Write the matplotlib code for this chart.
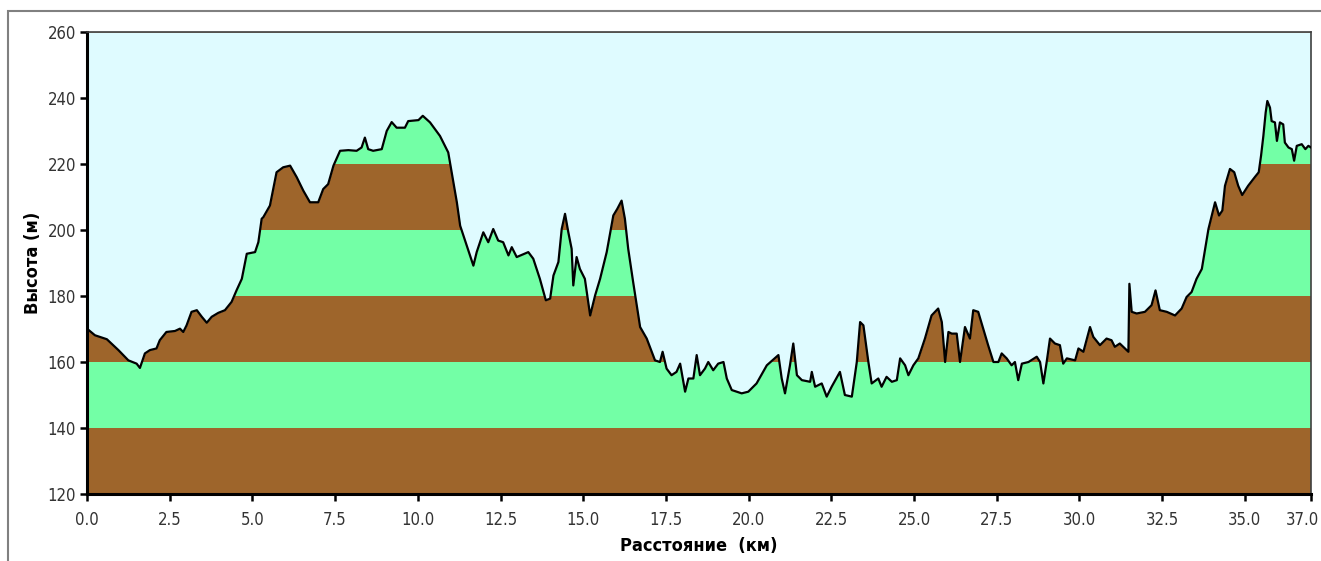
import numpy as np
import matplotlib.pyplot as plt
from matplotlib.patches import Rectangle
from matplotlib.transforms import ScaledTranslation

plt.rcParams['font.family'] = ['DejaVu Sans', 'Liberation Sans']
plt.rcParams['font.stretch'] = 'condensed'

# профиль высот: расстояние (км) и высота (м)
dist_km = [
    0.00, 0.24, 0.60, 0.95, 1.25, 1.50, 1.60, 1.75, 1.90, 2.10, 2.20, 2.40, 2.66, 2.81, 2.91,
    3.01, 3.16, 3.32, 3.47, 3.62, 3.77, 3.97, 4.17, 4.37, 4.52, 4.68, 4.83, 5.08, 5.18, 5.28,
    5.33, 5.53, 5.73, 5.93, 6.14, 6.34, 6.54, 6.74, 6.99, 7.14, 7.29, 7.45, 7.65, 7.90, 8.15,
    8.30, 8.40, 8.50, 8.65, 8.91, 9.06, 9.21, 9.36, 9.61, 9.71, 10.02, 10.15, 10.37, 10.67,
    10.92, 11.18, 11.28, 11.48, 11.68, 11.78, 11.98, 12.13, 12.28, 12.43, 12.58, 12.74, 12.84,
    12.99, 13.34, 13.49, 13.69, 13.87, 14.00, 14.10, 14.25, 14.35, 14.45, 14.55, 14.65, 14.70,
    14.80, 14.90, 15.05, 15.21, 15.36, 15.51, 15.71, 15.91, 16.03, 16.16, 16.26, 16.36, 16.51,
    16.72, 16.92, 17.17, 17.32, 17.40, 17.52, 17.67, 17.82, 17.93, 18.08, 18.18, 18.33, 18.43,
    18.53, 18.68, 18.78, 18.93, 19.08, 19.24, 19.34, 19.49, 19.79, 19.99, 20.24, 20.55, 20.90,
    21.00, 21.10, 21.25, 21.35, 21.46, 21.61, 21.86, 21.91, 22.01, 22.21, 22.36, 22.51, 22.76,
    22.91, 23.12, 23.27, 23.37, 23.47, 23.62, 23.72, 23.92, 24.02, 24.17, 24.33, 24.48, 24.58,
    24.73, 24.83, 24.98, 25.13, 25.33, 25.53, 25.73, 25.84, 25.94, 26.04, 26.14, 26.29, 26.39,
    26.54, 26.69, 26.79, 26.94, 27.09, 27.24, 27.40, 27.55, 27.65, 27.80, 27.95, 28.05, 28.15,
    28.26, 28.46, 28.71, 28.81, 28.91, 29.01, 29.11, 29.26, 29.41, 29.51, 29.62, 29.87, 29.97,
    30.12, 30.32, 30.42, 30.62, 30.82, 30.97, 31.07, 31.22, 31.48, 31.51, 31.58, 31.73, 31.98,
    32.18, 32.30, 32.43, 32.64, 32.89, 33.09, 33.24, 33.39, 33.54, 33.70, 33.80, 33.90, 34.00,
    34.10, 34.22, 34.32, 34.40, 34.55, 34.68, 34.80, 34.92, 35.10, 35.30, 35.42, 35.49, 35.56,
    35.63, 35.68, 35.76, 35.81, 35.91, 35.97, 36.06, 36.16, 36.21, 36.32, 36.42, 36.49, 36.57,
    36.72, 36.83, 36.92, 37.00,
]
elev_m = [
    170.1, 168.1, 166.9, 163.6, 160.5, 159.5, 158.2, 162.6, 163.6, 164.1, 166.6, 169.1, 169.4, 170.1, 169.1,
    171.1, 175.2, 175.7, 173.7, 171.9, 173.7, 174.9, 175.7, 178.2, 181.7, 185.2, 192.8, 193.3, 196.3, 203.4,
    203.9, 207.4, 217.5, 219.0, 219.5, 216.0, 211.9, 208.4, 208.4, 212.4, 213.9, 219.5, 224.0, 224.2, 224.0,
    225.0, 228.0, 224.5, 224.0, 224.5, 230.0, 232.7, 231.0, 231.0, 233.0, 233.3, 234.6, 232.6, 228.5,
    223.5, 208.4, 201.3, 195.3, 189.2, 193.3, 199.3, 196.3, 200.3, 196.8, 196.3, 192.3, 194.8,
    191.8, 193.3, 191.3, 185.2, 178.7, 179.2, 186.2, 190.3, 200.3, 204.9, 199.3, 194.3, 183.2,
    191.8, 188.2, 185.2, 174.1, 180.2, 185.2, 193.3, 204.4, 206.4, 208.9, 203.4, 194.3, 184.2,
    170.6, 167.1, 160.5, 160.0, 163.1, 158.0, 156.0, 157.0, 159.5, 151.0, 155.0, 155.0, 162.1,
    156.0, 158.0, 160.0, 157.5, 159.5, 160.0, 155.0, 151.5, 150.5, 151.0, 153.5, 159.0, 162.1,
    155.0, 150.5, 159.0, 165.6, 156.0, 154.5, 154.0, 157.0, 152.5, 153.5, 149.5, 152.5, 157.0,
    150.0, 149.5, 160.0, 172.1, 171.1, 160.0, 153.5, 155.0, 152.5, 155.5, 154.0, 154.5, 161.1,
    159.0, 156.0, 159.0, 161.1, 167.1, 174.1, 176.2, 172.1, 160.0, 169.1, 168.6, 168.6, 160.0,
    170.6, 167.1, 175.7, 175.2, 170.1, 165.1, 160.0, 160.0, 162.6, 161.1, 159.0, 160.0, 154.5,
    159.5, 160.0, 161.6, 160.0, 153.5, 160.0, 167.1, 165.6, 165.1, 159.5, 161.1, 160.5, 164.1,
    163.1, 170.6, 167.6, 165.1, 167.1, 166.6, 164.6, 165.6, 163.1, 183.7, 175.2, 174.7, 175.2,
    177.2, 181.7, 175.7, 175.2, 174.1, 176.2, 179.7, 181.2, 185.2, 188.2, 194.3, 200.3, 204.4,
    208.4, 204.4, 205.9, 213.4, 218.5, 217.5, 213.4, 210.6, 213.4, 216.0, 217.5, 222.5, 228.5,
    235.6, 239.1, 237.1, 233.0, 232.6, 227.0, 232.6, 232.0, 226.5, 225.0, 224.5, 221.0, 225.5,
    226.0, 224.5, 225.5, 225.0,
]

band_edges = [120, 140, 160, 180, 200, 220, 240, 260]
x_ticks = [0, 2.5, 5, 7.5, 10, 12.5, 15, 17.5, 20, 22.5, 25, 27.5, 30, 32.5, 35, 37]
x_tick_labels = ['0.0', '2.5', '5.0', '7.5', '10.0', '12.5', '15.0', '17.5', '20.0',
                 '22.5', '25.0', '27.5', '30.0', '32.5', '35.0', '37.0']
y_ticks = [120, 140, 160, 180, 200, 220, 240, 260]

BROWN = '#9e652b'
GREEN = '#73ffa6'
SKY = '#dffbff'

x = np.array(dist_km)
y = np.array(elev_m)

fig = plt.figure(figsize=(13.21, 5.61), dpi=100)
fig.patches.append(Rectangle((8 / 1321, -0.1), 1.2, 1 - 11 / 561 + 0.1,
                             transform=fig.transFigure, fill=False,
                             edgecolor='#808080', linewidth=1.5))
ax = fig.add_axes([87 / 1321, 1 - 494 / 561, (1311 - 87) / 1321, (494 - 32) / 561])

# полосы высот
for i in range(len(band_edges) - 1):
    col = BROWN if i % 2 == 0 else GREEN
    ax.axhspan(band_edges[i], band_edges[i + 1], color=col, linewidth=0, zorder=1)

# небо над профилем
ax.fill_between(x, y, 260, color=SKY, linewidth=0, zorder=2)
ax.plot(x, y, color='black', linewidth=1.6, zorder=3)

ax.set_xlim(0, 37)
ax.set_ylim(120, 260)
ax.set_xticks(x_ticks)
ax.set_xticklabels(x_tick_labels)
ax.set_yticks(y_ticks)
ax.tick_params(direction='out', length=5, width=1.8, labelsize=12, colors='black')
ax.tick_params(axis='x', pad=7)
ax.tick_params(axis='y', pad=3)
for lab in ax.get_xticklabels() + ax.get_yticklabels():
    lab.set_color('#333333')

# последняя подпись "37.0" чуть левее, чтобы не обрезалась
last = ax.get_xticklabels()[-1]
last.set_transform(last.get_transform() + ScaledTranslation(-6 / 72, 0, fig.dpi_scale_trans))

for side in ['left', 'bottom']:
    ax.spines[side].set_linewidth(2.2)
    ax.spines[side].set_color('black')
for side in ['top', 'right']:
    ax.spines[side].set_linewidth(1.2)
    ax.spines[side].set_color('#404040')

ax.set_xlabel('Расстояние  (км)', fontsize=13, fontweight='bold', labelpad=6)
ax.set_ylabel('Высота (м)', fontsize=13, fontweight='bold', labelpad=4)

fig.savefig('out.png', dpi=100)
